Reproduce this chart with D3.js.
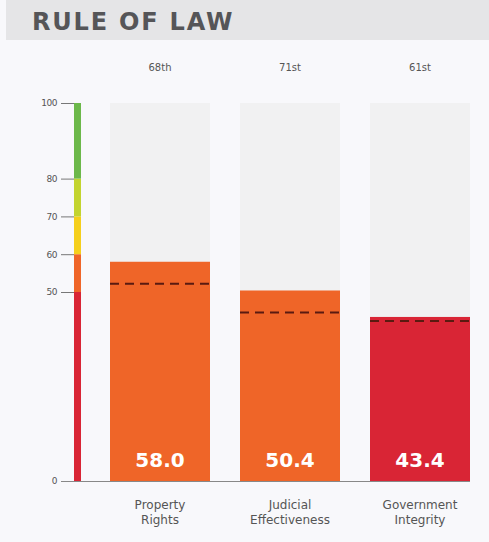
<!DOCTYPE html>
<html><head><meta charset="utf-8">
<script src="https://cdn.jsdelivr.net/npm/d3@7"></script>
<style>
html,body{margin:0;padding:0;background:#f8f8fb;}
svg{display:block;}
</style></head>
<body><svg id="c" width="489" height="542"></svg>
<script>
const title = "RULE OF LAW";
const categories = [["Property","Rights"],["Judicial","Effectiveness"],["Government","Integrity"]];
const values = [58.0, 50.4, 43.4];
const averages = [52.2, 44.6, 42.3];
const ranks = ["68th","71st","61st"];
const yTicks = [0, 50, 60, 70, 80, 100];
const bands = [
  {from:0, to:50, color:"#d92535"},
  {from:50, to:60, color:"#ef6528"},
  {from:60, to:70, color:"#f5cf1c"},
  {from:70, to:80, color:"#c3d42f"},
  {from:80, to:100, color:"#6cb84a"}
];

const svg = d3.select("#c");
const font = "'DejaVu Sans', Verdana, sans-serif";

svg.append("rect").attr("x",0).attr("y",0).attr("width",489).attr("height",542).attr("fill","#f8f8fb");
svg.append("rect").attr("x",6).attr("y",0).attr("width",483).attr("height",40).attr("fill","#e5e5e7");
svg.append("text").attr("x",32).attr("y",30).attr("font-family",font).attr("font-weight","bold")
  .attr("font-size",24).attr("letter-spacing","1.8px").attr("fill","#555558").text(title);

const y = d3.scaleLinear().domain([0,100]).range([481,103]);
const x = d3.scaleBand().domain(d3.range(values.length)).range([110,470]).paddingInner(3/13).paddingOuter(0);

// axis
const axis = d3.axisLeft(y).tickValues(yTicks).tickSize(13).tickPadding(4);
const g = svg.append("g").attr("transform","translate(74,0)").call(axis);
g.select(".domain").remove();
g.selectAll(".tick line").attr("stroke","#777").attr("stroke-width",1);
g.selectAll(".tick text").attr("font-family",font).attr("font-size",9).attr("fill","#555").attr("letter-spacing","-0.5px");

// baseline
svg.append("line").attr("x1",61).attr("x2",x(2)+x.bandwidth()).attr("y1",y(0)+0.5).attr("y2",y(0)+0.5)
  .attr("stroke","#888").attr("stroke-width",1.2);

// color band
svg.selectAll("rect.band").data(bands).join("rect").attr("class","band")
  .attr("x",74).attr("width",7)
  .attr("y",d=>y(d.to)).attr("height",d=>y(d.from)-y(d.to)).attr("fill",d=>d.color);

const colorFor = v => bands.find(b => v >= b.from && v < b.to).color;

// background bars
svg.selectAll("rect.bg").data(values).join("rect").attr("class","bg")
  .attr("x",(d,i)=>x(i)).attr("width",x.bandwidth())
  .attr("y",y(100)).attr("height",y(0)-y(100)).attr("fill","#f1f1f2");
// value bars
svg.selectAll("rect.val").data(values).join("rect").attr("class","val")
  .attr("x",(d,i)=>x(i)).attr("width",x.bandwidth())
  .attr("y",d=>y(d)).attr("height",d=>y(0)-y(d)).attr("fill",d=>colorFor(d));
// averages dashed
svg.selectAll("line.avg").data(averages).join("line").attr("class","avg")
  .attr("x1",(d,i)=>x(i)).attr("x2",(d,i)=>x(i)+x.bandwidth())
  .attr("y1",d=>y(d)).attr("y2",d=>y(d))
  .attr("stroke","#5a1a10").attr("stroke-width",2).attr("stroke-dasharray","9,6");
// value labels
svg.selectAll("text.vl").data(values).join("text").attr("class","vl")
  .attr("x",(d,i)=>x(i)+x.bandwidth()/2).attr("y",467).attr("text-anchor","middle")
  .attr("font-family",font).attr("font-weight","bold").attr("font-size",20).attr("fill","#fff")
  .text(d=>d.toFixed(1));
// ranks
svg.selectAll("text.rk").data(ranks).join("text").attr("class","rk")
  .attr("x",(d,i)=>x(i)+x.bandwidth()/2).attr("y",71).attr("text-anchor","middle")
  .attr("font-family",font).attr("font-size",10).attr("fill","#555").text(d=>d);
// categories
const cat = svg.selectAll("text.cat").data(categories).join("text").attr("class","cat")
  .attr("x",(d,i)=>x(i)+x.bandwidth()/2).attr("y",509).attr("text-anchor","middle")
  .attr("font-family",font).attr("font-size",12).attr("fill","#555");
cat.selectAll("tspan").data(d=>d).join("tspan")
  .attr("x",function(){return this.parentNode.getAttribute("x");})
  .attr("dy",(d,i)=>i?15:0).text(d=>d);
</script></body></html>
